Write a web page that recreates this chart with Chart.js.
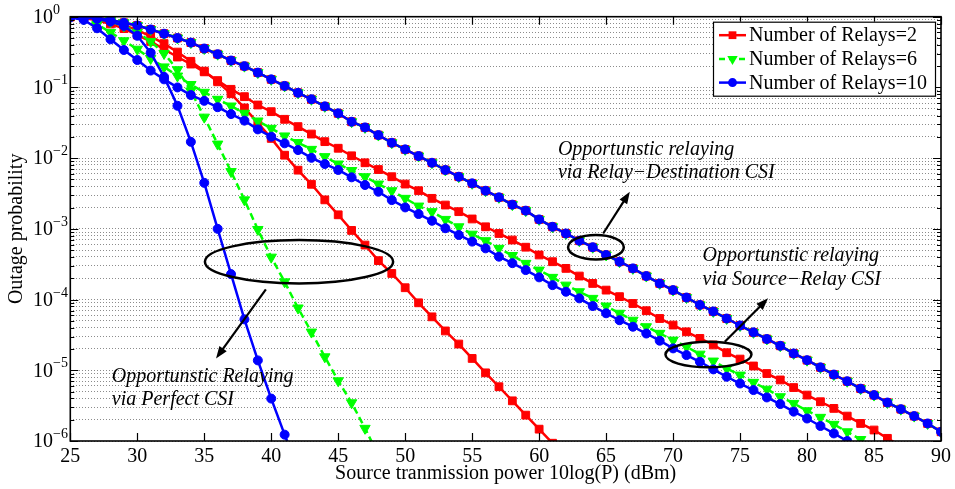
<!DOCTYPE html>
<html>
<head>
<meta charset="utf-8">
<title>Outage probability vs source power</title>
<script src="https://cdn.jsdelivr.net/npm/chart.js@4.4.1/dist/chart.umd.min.js"></script>
<style>
  html, body { margin: 0; padding: 0; background: #fff; }
</style>
</head>
<body>
<canvas id="chart" width="955" height="489"></canvas>
<script>
"use strict";

// x positions (dBm), one marker per dB
const powerDb = [25, 26, 27, 28, 29, 30, 31, 32, 33, 34, 35, 36, 37, 38, 39, 40, 41, 42, 43, 44, 45,
  46, 47, 48, 49, 50, 51, 52, 53, 54, 55, 56, 57, 58, 59, 60, 61, 62, 63, 64, 65, 66, 67, 68,
  69, 70, 71, 72, 73, 74, 75, 76, 77, 78, 79, 80, 81, 82, 83, 84, 85, 86, 87, 88, 89, 90];

// relay-destination CSI: curves for 2, 6 and 10 relays lie on top of each other
const relayDestCsi = [1.0, 0.99, 0.97, 0.90, 0.82, 0.75, 0.66, 0.575, 0.50, 0.43, 0.355, 0.295,
  0.24, 0.20, 0.162, 0.13, 0.105, 0.084, 0.068, 0.054, 0.043, 0.0327, 0.0272, 0.0212, 0.0165,
  0.0133, 0.0107, 0.0086, 0.0068, 0.00546, 0.0044, 0.00346, 0.00279, 0.0022, 0.00181, 0.00136,
  0.00107, 8.6e-4, 6.8e-4, 5.5e-4, 4.27e-4, 3.43e-4, 2.76e-4, 2.15e-4, 1.69e-4, 1.36e-4, 1.07e-4,
  8.4e-5, 6.8e-5, 5.4e-5, 4.3e-5, 3.44e-5, 2.77e-5, 2.22e-5, 1.73e-5, 1.39e-5, 1.10e-5, 8.7e-6,
  7.0e-6, 5.5e-6, 4.46e-6, 3.5e-6, 2.82e-6, 2.25e-6, 1.77e-6, 1.35e-6];

// source-relay CSI
const srcRelayCsi2 = [0.99, 0.955, 0.89, 0.79, 0.68, 0.55, 0.447, 0.347, 0.269, 0.214, 0.166,
  0.125, 0.094, 0.074, 0.0564, 0.0454, 0.0354, 0.0279, 0.0219, 0.0171, 0.0138, 0.0108, 0.0086,
  0.0069, 0.00546, 0.0043, 0.00346, 0.0027, 0.00217, 0.00175, 0.00138, 0.00107, 8.6e-4, 6.95e-4,
  5.5e-4, 4.27e-4, 3.43e-4, 2.76e-4, 2.15e-4, 1.69e-4, 1.36e-4, 1.10e-4, 8.8e-5, 6.95e-5, 5.4e-5,
  4.36e-5, 3.5e-5, 2.82e-5, 2.28e-5, 1.77e-5, 1.44e-5, 1.15e-5, 9.0e-6, 7.3e-6, 5.7e-6, 4.46e-6,
  3.59e-6, 2.89e-6, 2.25e-6, 1.77e-6, 1.43e-6, 1.09e-6, 8.5e-7];
const srcRelayCsi6 = [0.99, 0.93, 0.78, 0.60, 0.457, 0.347, 0.257, 0.195, 0.145, 0.11, 0.0853,
  0.0679, 0.0546, 0.0431, 0.0335, 0.0264, 0.0206, 0.0166, 0.0133, 0.0105, 0.00826, 0.00668,
  0.00546, 0.0043, 0.00346, 0.0027, 0.0021, 0.00175, 0.00136, 0.00107, 8.4e-4, 6.8e-4, 5.3e-4,
  4.2e-4, 3.25e-4, 2.61e-4, 2.06e-4, 1.6e-4, 1.29e-4, 1.04e-4, 8.1e-5, 6.4e-5, 5.1e-5, 4.13e-5,
  3.33e-5, 2.67e-5, 2.15e-5, 1.69e-5, 1.35e-5, 1.06e-5, 8.55e-6, 6.75e-6, 5.4e-6, 4.23e-6, 3.4e-6,
  2.68e-6, 2.16e-6, 1.72e-6, 1.35e-6, 1.05e-6, 8.3e-7];
const srcRelayCsi10 = [0.98, 0.90, 0.686, 0.479, 0.338, 0.244, 0.173, 0.13, 0.1, 0.078, 0.0646,
  0.0525, 0.042, 0.0339, 0.0255, 0.0201, 0.0162, 0.013, 0.0101, 0.00826, 0.0068, 0.00535,
  0.00417, 0.00335, 0.00255, 0.00201, 0.00162, 0.0013, 0.00102, 8.2e-4, 6.6e-4, 5.3e-4, 4.04e-4,
  3.27e-4, 2.61e-4, 2.06e-4, 1.6e-4, 1.29e-4, 1.04e-4, 8.1e-5, 6.4e-5, 5.1e-5, 4.13e-5, 3.31e-5,
  2.62e-5, 2.04e-5, 1.64e-5, 1.32e-5, 1.03e-5, 8.1e-6, 6.5e-6, 5.25e-6, 4.13e-6, 3.33e-6, 2.6e-6,
  2.08e-6, 1.63e-6, 1.28e-6, 1.0e-6];

// perfect CSI
const perfectCsi2 = [1.0, 0.977, 0.933, 0.851, 0.759, 0.646, 0.525, 0.417, 0.316, 0.234, 0.17,
  0.12, 0.0813, 0.0513, 0.0316, 0.019, 0.011, 0.00676, 0.00427, 0.00257, 0.00158, 9.5e-4, 5.9e-4,
  3.55e-4, 2.34e-4, 1.47e-4, 9.0e-5, 5.7e-5, 3.6e-5, 2.35e-5, 1.47e-5, 9.2e-6, 5.85e-6, 3.7e-6,
  2.32e-6, 1.47e-6, 9.3e-7];
const perfectCsi6 = [1.0, 0.977, 0.933, 0.851, 0.741, 0.603, 0.447, 0.302, 0.178, 0.0891, 0.038,
  0.0158, 0.00646, 0.00257, 9.8e-4, 3.98e-4, 1.78e-4, 7.6e-5, 3.47e-5, 1.55e-5, 7.1e-6, 3.47e-6,
  1.51e-6, 6.3e-7];
const perfectCsi10 = [1.0, 0.977, 0.933, 0.851, 0.741, 0.537, 0.309, 0.141, 0.055, 0.017, 0.00447,
  1.0e-3, 2.29e-4, 5.25e-5, 1.38e-5, 3.98e-6, 1.23e-6, 4.0e-7];

const legendLabels = ['Number of Relays=2', 'Number of Relays=6', 'Number of Relays=10'];
const xTicks = [25, 30, 35, 40, 45, 50, 55, 60, 65, 70, 75, 80, 85, 90];
const yTickValues = [1, 1e-1, 1e-2, 1e-3, 1e-4, 1e-5, 1e-6];
const yTickExponents = ['0', '\u22121', '\u22122', '\u22123', '\u22124', '\u22125', '\u22126'];

// annotations, placed in chart units (dBm, probability)
const notes = [
  { lines: ['Opportunstic relaying', 'via Relay\u2212Destination CSI'], x: 61.4, y: [1.3e-2, 6.2e-3],
    ellipse: [62.16, 66.32, 8.2e-4, 3.7e-4], arrow: [64.78, 8.6e-4, 66.77, 3.35e-3] },
  { lines: ['Opportunstic relaying', 'via Source\u2212Relay CSI'], x: 72.2, y: [4.1e-4, 1.89e-4],
    ellipse: [69.43, 75.85, 2.53e-5, 1.1e-5], arrow: [73.86, 2.53e-5, 77.09, 1.04e-4] },
  { lines: ['Opportunstic Relaying', 'via Perfect CSI'], x: 28.1, y: [8.0e-6, 3.8e-6],
    ellipse: [35.05, 49.1, 6.95e-4, 1.69e-4], arrow: [39.6, 1.39e-4, 35.88, 1.47e-5] }
];

const serif = '"Liberation Serif", "Times New Roman", serif';

const relayStyles = [
  { color: '#ff0000', pointStyle: 'rect', radius: 5.5, dash: [], rotation: 0 },
  { color: '#00ff00', pointStyle: 'triangle', radius: 6, dash: [7, 4], rotation: 180 },
  { color: '#0000ff', pointStyle: 'circle', radius: 4.5, dash: [], rotation: 0 }
];

function makeSet(values, k) {
  const s = relayStyles[k];
  return {
    data: values.map((v, i) => ({ x: powerDb[i], y: v })),
    borderColor: s.color,
    backgroundColor: s.color,
    borderWidth: 2.5,
    borderDash: s.dash,
    pointStyle: s.pointStyle,
    pointRadius: s.radius,
    pointRotation: s.rotation,
    pointBackgroundColor: s.color,
    pointBorderColor: s.color,
    pointBorderWidth: 1,
    tension: 0,
    fill: false,
    order: 2 - k   // blue drawn on top, red at the bottom
  };
}

const datasets = [
  makeSet(relayDestCsi, 0), makeSet(relayDestCsi, 1), makeSet(relayDestCsi, 2),
  makeSet(srcRelayCsi2, 0), makeSet(srcRelayCsi6, 1), makeSet(srcRelayCsi10, 2),
  makeSet(perfectCsi2, 0), makeSet(perfectCsi6, 1), makeSet(perfectCsi10, 2)
];

function drawMarker(ctx, s, x, y) {
  ctx.save();
  ctx.fillStyle = s.color;
  ctx.beginPath();
  if (s.pointStyle === 'rect') {
    const h = s.radius * Math.SQRT1_2;
    ctx.rect(x - h, y - h, 2 * h, 2 * h);
  } else if (s.pointStyle === 'triangle') {
    const r = s.radius;
    ctx.moveTo(x, y + r);
    ctx.lineTo(x - r * 0.866, y - r / 2);
    ctx.lineTo(x + r * 0.866, y - r / 2);
    ctx.closePath();
  } else {
    ctx.arc(x, y, s.radius, 0, Math.PI * 2);
  }
  ctx.fill();
  ctx.restore();
}

function drawArrow(ctx, x1, y1, x2, y2) {
  const a = Math.atan2(y2 - y1, x2 - x1);
  const len = 12, half = 4.5;
  ctx.beginPath();
  ctx.moveTo(x1, y1);
  ctx.lineTo(x2 - Math.cos(a) * len * 0.8, y2 - Math.sin(a) * len * 0.8);
  ctx.stroke();
  ctx.beginPath();
  ctx.moveTo(x2, y2);
  ctx.lineTo(x2 - Math.cos(a) * len + Math.sin(a) * half, y2 - Math.sin(a) * len - Math.cos(a) * half);
  ctx.lineTo(x2 - Math.cos(a) * len - Math.sin(a) * half, y2 - Math.sin(a) * len + Math.cos(a) * half);
  ctx.closePath();
  ctx.fill();
}

const overlay = {
  id: 'overlay',
  afterDraw(chart) {
    const ctx = chart.ctx;
    const xs = chart.scales.x, ys = chart.scales.y;
    const area = chart.chartArea;
    ctx.save();
    ctx.strokeStyle = '#000';
    ctx.fillStyle = '#000';

    // box and inward tick marks
    ctx.lineWidth = 1.2;
    for (const v of xTicks) {
      const px = Math.round(xs.getPixelForValue(v)) + 0.5;
      ctx.beginPath();
      ctx.moveTo(px, area.bottom); ctx.lineTo(px, area.bottom - 8);
      ctx.moveTo(px, area.top); ctx.lineTo(px, area.top + 8);
      ctx.stroke();
    }
    for (const t of ys.ticks) {
      const py = Math.round(ys.getPixelForValue(t.value)) + 0.5;
      const len = yTickValues.includes(t.value) ? 8 : 4;
      ctx.beginPath();
      ctx.moveTo(area.left, py); ctx.lineTo(area.left + len, py);
      ctx.moveTo(area.right, py); ctx.lineTo(area.right - len, py);
      ctx.stroke();
    }
    ctx.lineWidth = 1.6;
    ctx.strokeRect(area.left, area.top, area.right - area.left, area.bottom - area.top);

    // y tick labels 10^n
    yTickValues.forEach((v, i) => {
      const py = ys.getPixelForValue(v);
      ctx.textAlign = 'left';
      ctx.textBaseline = 'middle';
      ctx.font = '20px ' + serif;
      ctx.fillText('10', 33, py + 1);
      const w = ctx.measureText('10').width;
      ctx.font = '14px ' + serif;
      ctx.textBaseline = 'alphabetic';
      ctx.fillText(yTickExponents[i], 33 + w, py - 3);
    });

    // ellipses, arrows, notes
    for (const n of notes) {
      const x1 = xs.getPixelForValue(n.ellipse[0]), x2 = xs.getPixelForValue(n.ellipse[1]);
      const y1 = ys.getPixelForValue(n.ellipse[2]), y2 = ys.getPixelForValue(n.ellipse[3]);
      ctx.lineWidth = 2.5;
      ctx.beginPath();
      ctx.ellipse((x1 + x2) / 2, (y1 + y2) / 2, (x2 - x1) / 2, (y2 - y1) / 2, 0, 0, Math.PI * 2);
      ctx.stroke();

      ctx.lineWidth = 2.2;
      drawArrow(ctx, xs.getPixelForValue(n.arrow[0]), ys.getPixelForValue(n.arrow[1]),
        xs.getPixelForValue(n.arrow[2]), ys.getPixelForValue(n.arrow[3]));

      ctx.font = 'italic 20px ' + serif;
      ctx.textAlign = 'left';
      ctx.textBaseline = 'middle';
      n.lines.forEach((txt, i) => {
        ctx.fillText(txt, xs.getPixelForValue(n.x), ys.getPixelForValue(n.y[i]));
      });
    }

    // legend box inside the plot
    const bx = area.right - 228, by = area.top + 5, bw = 222, bh = 74;
    ctx.fillStyle = '#fff';
    ctx.fillRect(bx, by, bw, bh);
    ctx.lineWidth = 1.2;
    ctx.strokeRect(bx + 0.5, by + 0.5, bw, bh);
    legendLabels.forEach((label, i) => {
      const s = relayStyles[i];
      const ry = by + 13.5 + i * 23.7;
      ctx.strokeStyle = s.color;
      ctx.lineWidth = 2.5;
      ctx.setLineDash(i === 1 ? [6, 4] : []);
      ctx.beginPath();
      ctx.moveTo(bx + 6, ry); ctx.lineTo(bx + 33, ry);
      ctx.stroke();
      ctx.setLineDash([]);
      drawMarker(ctx, s, bx + 19.5, ry);
      ctx.fillStyle = '#000';
      ctx.font = '20px ' + serif;
      ctx.textAlign = 'left';
      ctx.textBaseline = 'middle';
      ctx.fillText(label, bx + 36, ry + 1);
    });
    ctx.restore();
  }
};

const chartEl = document.getElementById('chart');
const myChart = new Chart(chartEl, {
  type: 'line',
  data: { datasets: datasets },
  options: {
    responsive: false,
    animation: false,
    devicePixelRatio: 1,
    events: [],
    layout: { padding: { top: 16.7, right: 13.3, left: 0, bottom: 0 } },
    plugins: { legend: { display: false }, tooltip: { enabled: false } },
    scales: {
      x: {
        type: 'linear',
        min: 25,
        max: 90,
        ticks: { stepSize: 5, color: '#000', font: { family: serif, size: 20 }, padding: 4, maxRotation: 0 },
        grid: { display: false, drawTicks: false },
        border: { display: false },
        title: {
          display: true,
          text: 'Source tranmission power 10log(P) (dBm)',
          color: '#000',
          font: { family: serif, size: 20 },
          padding: { top: 0, bottom: 3 }
        },
        afterFit: (scale) => { scale.height = 48; }
      },
      y: {
        type: 'logarithmic',
        min: 1e-6,
        max: 1,
        ticks: { display: false },
        afterBuildTicks: (scale) => {
          const ticks = [];
          for (let e = -6; e < 0; e++) {
            for (let m = 1; m < 10; m++) {
              ticks.push({ value: m * Math.pow(10, e) });
            }
          }
          ticks.push({ value: 1 });
          scale.ticks = ticks;
        },
        grid: { color: '#8c8c8c', lineWidth: 1, drawTicks: false },
        border: { display: false, dash: [1, 2] },
        title: {
          display: true,
          text: 'Outage probability',
          color: '#000',
          font: { family: serif, size: 20 },
          padding: { top: 5, bottom: 0 }
        },
        afterFit: (scale) => { scale.width = 70.3; }
      }
    }
  },
  plugins: [overlay]
});
</script>
</body>
</html>
